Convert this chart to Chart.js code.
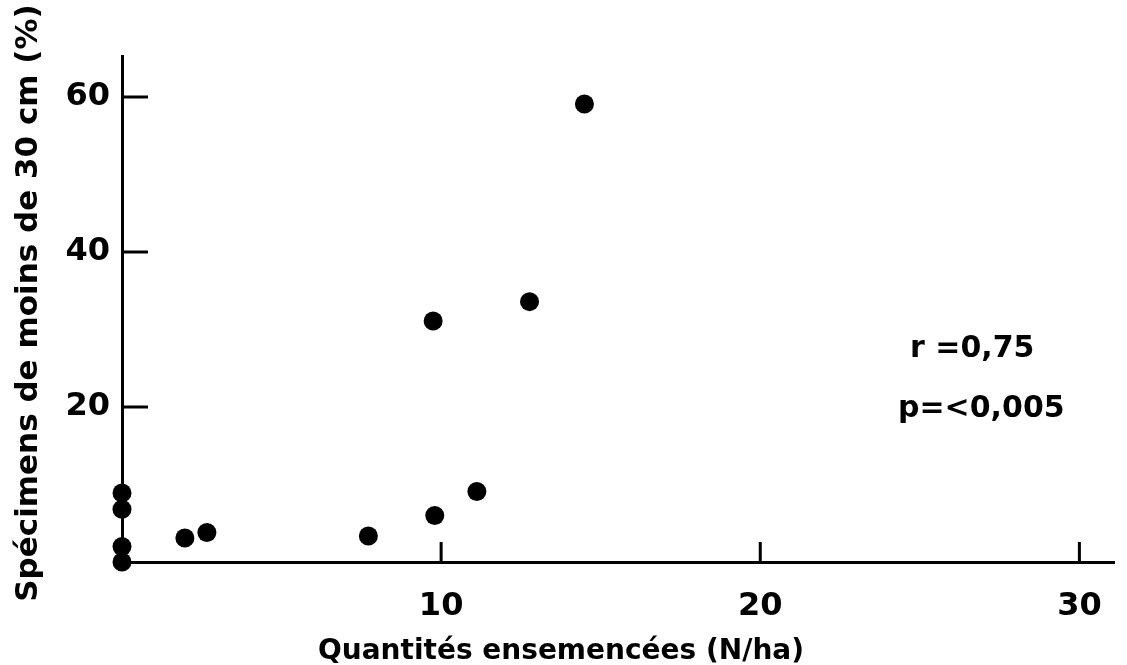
<!DOCTYPE html>
<html>
<head>
<meta charset="utf-8">
<script src="https://cdn.jsdelivr.net/npm/chart.js@4/dist/chart.umd.min.js"></script>
<style>
  html, body { margin: 0; padding: 0; background: #fff; }
  #graphique { display: block; }
</style>
</head>
<body>
<canvas id="graphique" width="1127" height="665"></canvas>
<script>
// Quantités ensemencées (N/ha) vs spécimens de moins de 30 cm (%)
const quantites = [0, 0, 0, 0, 1.97, 2.66, 7.72, 9.8, 11.12, 9.75, 12.77, 14.49];
const specimens = [8.9, 6.8, 2.0, 0, 3.1, 3.8, 3.35, 6.0, 9.1, 31.1, 33.6, 59.1];
const ticksX = [10, 20, 30];
const ticksY = [20, 40, 60];
const titreX = 'Quantités ensemencées (N/ha)';
const titreY = 'Spécimens de moins de 30 cm (%)';
const stats = ['r =0,75', 'p=<0,005'];

const police = '"DejaVu Sans", Verdana, sans-serif';

// petits traits de graduation tournés vers l'intérieur + textes
const graduations = {
    id: 'graduations',
    afterDraw(chart) {
        const ctx = chart.ctx;
        const sx = chart.scales.x;
        const sy = chart.scales.y;
        const area = chart.chartArea;
        ctx.save();
        ctx.strokeStyle = '#000';
        ctx.lineWidth = 3;
        ctx.beginPath();
        ticksX.forEach(v => {
            const px = sx.getPixelForValue(v);
            ctx.moveTo(px, area.bottom);
            ctx.lineTo(px, area.bottom - 20);
        });
        ticksY.forEach(v => {
            const py = sy.getPixelForValue(v);
            ctx.moveTo(area.left, py);
            ctx.lineTo(area.left + 26, py);
        });
        ctx.stroke();

        ctx.fillStyle = '#000';
        ctx.font = 'bold 28px ' + police;
        ctx.textAlign = 'center';
        ctx.textBaseline = 'alphabetic';
        ctx.fillText(titreX, 561, 659);

        ctx.save();
        ctx.translate(29, 303);
        ctx.rotate(-Math.PI / 2);
        ctx.font = 'bold 31px ' + police;
        ctx.textBaseline = 'middle';
        ctx.fillText(titreY, 0, 0);
        ctx.restore();

        ctx.textAlign = 'left';
        ctx.font = 'bold 30px ' + police;
        ctx.fillText(stats[0], 910, 357);
        ctx.fillText(stats[1], 898, 417);
        ctx.restore();
    }
};

new Chart(document.getElementById('graphique'), {
    type: 'scatter',
    data: {
        datasets: [{
            data: quantites.map((x, i) => ({ x: x, y: specimens[i] })),
            backgroundColor: '#000',
            borderWidth: 0,
            pointRadius: 9.5,
            pointHoverRadius: 9.5,
            clip: false
        }]
    },
    options: {
        responsive: false,
        animation: false,
        layout: { padding: { top: 56, right: 9, left: 0, bottom: 0 } },
        plugins: {
            legend: { display: false },
            tooltip: { enabled: false }
        },
        scales: {
            x: {
                type: 'linear',
                min: 0,
                max: 31.1,
                afterBuildTicks: s => { s.ticks = ticksX.map(v => ({ value: v })); },
                afterFit: s => { s.height = 103; },
                border: { display: true, color: '#000', width: 3 },
                grid: { display: false, drawTicks: false },
                ticks: {
                    color: '#000',
                    padding: 25,
                    font: { family: police, size: 32, weight: 'bold' }
                }
            },
            y: {
                type: 'linear',
                min: 0,
                max: 65.3,
                afterBuildTicks: s => { s.ticks = ticksY.map(v => ({ value: v })); },
                afterFit: s => { s.width = 122; },
                border: { display: true, color: '#000', width: 3 },
                grid: { display: false, drawTicks: false },
                ticks: {
                    color: '#000',
                    padding: 12,
                    font: { family: police, size: 32, weight: 'bold' }
                }
            }
        }
    },
    plugins: [graduations]
});
</script>
</body>
</html>
